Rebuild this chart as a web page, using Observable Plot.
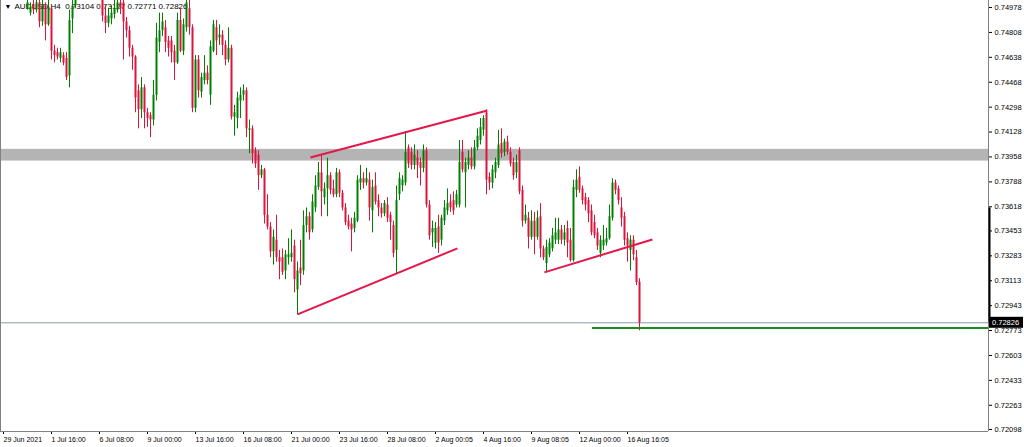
<!DOCTYPE html>
<html><head><meta charset="utf-8">
<script src="https://cdn.jsdelivr.net/npm/d3@7"></script>
<script src="https://cdn.jsdelivr.net/npm/@observablehq/plot@0.6"></script>
<style>body{margin:0;background:#fff;overflow:hidden}</style>
</head><body><div id="chart"></div>
<script>
const symbol = "AUDUSD,H4";
const firstBar = 8; // bar index of the first value below (bar 0 = 29 Jun 2021 00:00)
const open = [
0.7497,0.7494,0.7500,0.7496,0.7501,0.7488,0.7499,0.7486,0.7497,0.7468,
0.7467,0.7463,0.7465,0.7463,0.7451,0.7490,0.7499,0.7506,0.7518,0.7524,
0.7531,0.7542,0.7548,0.7556,0.7528,0.7512,0.7492,0.7487,0.7490,0.7493,
0.7496,0.7501,0.7501,0.7488,0.7482,0.7470,0.7464,0.7441,0.7428,0.7443,
0.7426,0.7424,0.7421,0.7438,0.7474,0.7482,0.7484,0.7475,0.7475,0.7468,
0.7460,0.7489,0.7468,0.7484,0.7497,0.7484,0.7429,0.7462,0.7440,0.7448,
0.7453,0.7438,0.7468,0.7484,0.7477,0.7479,0.7472,0.7462,0.7470,0.7423,
0.7422,0.7434,0.7438,0.7441,0.7414,0.7415,0.7400,0.7397,0.7383,0.7387,
0.7356,0.7348,0.7331,0.7339,0.7327,0.7327,0.7318,0.7327,0.7327,0.7335,
0.7305,0.7320,0.7318,0.7349,0.7355,0.7346,0.7361,0.7375,0.7385,0.7368,
0.7374,0.7383,0.7374,0.7370,0.7385,0.7371,0.7361,0.7352,0.7350,0.7347,
0.7352,0.7378,0.7381,0.7378,0.7380,0.7359,0.7376,0.7366,0.7361,0.7357,
0.7363,0.7356,0.7349,0.7332,0.7370,0.7376,0.7378,0.7402,0.7399,0.7390,
0.7395,0.7392,0.7388,0.7400,0.7363,0.7344,0.7337,0.7348,0.7339,0.7352,
0.7359,0.7365,0.7366,0.7363,0.7363,0.7399,0.7385,0.7390,0.7395,0.7389,
0.7402,0.7407,0.7414,0.7426,0.7382,0.7378,0.7385,0.7390,0.7405,0.7399,
0.7406,0.7399,0.7392,0.7385,0.7400,0.7373,0.7352,0.7354,0.7341,0.7352,
0.7341,0.7355,0.7333,0.7323,0.7329,0.7333,0.7339,0.7339,0.7346,0.7339,
0.7347,0.7339,0.7325,0.7373,0.7382,0.7374,0.7368,0.7366,0.7359,0.7351,
0.7344,0.7330,0.7335,0.7337,0.7340,0.7354,0.7378,0.7374,0.7361,0.7355,
0.7340,0.7332,0.7339,0.7327,0.73104];
const high = [
0.7503,0.7501,0.7503,0.7505,0.7503,0.7503,0.7501,0.7503,0.7499,0.7472,
0.7470,0.7470,0.7467,0.7467,0.7496,0.7503,0.7509,0.7522,0.7528,0.7536,
0.7548,0.7556,0.7562,0.7570,0.7534,0.7516,0.7499,0.7497,0.7499,0.7503,
0.7506,0.7506,0.7505,0.7491,0.7485,0.7472,0.7465,0.7445,0.7450,0.7445,
0.7429,0.7426,0.7448,0.7487,0.7494,0.7494,0.7489,0.7478,0.7478,0.7472,
0.7494,0.7497,0.7490,0.7506,0.7503,0.7486,0.7465,0.7465,0.7453,0.7465,
0.7458,0.7475,0.7489,0.7489,0.7486,0.7482,0.7475,0.7484,0.7472,0.7431,
0.7440,0.7443,0.7445,0.7443,0.7421,0.7417,0.7402,0.7400,0.7390,0.7388,
0.7370,0.7351,0.7346,0.7356,0.7332,0.7333,0.7332,0.7340,0.7346,0.7339,
0.7324,0.7339,0.7359,0.7361,0.7358,0.7370,0.7383,0.7392,0.7397,0.7378,
0.7395,0.7385,0.7380,0.7388,0.7387,0.7373,0.7364,0.7356,0.7354,0.7358,
0.7383,0.7390,0.7385,0.7388,0.7385,0.7380,0.7385,0.7370,0.7364,0.7366,
0.7368,0.7358,0.7352,0.7376,0.7385,0.7383,0.7413,0.7404,0.7402,0.7404,
0.7400,0.7395,0.7404,0.7402,0.7366,0.7352,0.7351,0.7356,0.7356,0.7366,
0.7374,0.7370,0.7372,0.7373,0.7407,0.7407,0.7395,0.7400,0.7402,0.7407,
0.7415,0.7422,0.7424,0.7428,0.7385,0.7390,0.7395,0.7414,0.7415,0.7408,
0.7410,0.7402,0.7395,0.7397,0.7402,0.7376,0.7363,0.7358,0.7359,0.7358,
0.7359,0.7364,0.7335,0.7339,0.7340,0.7347,0.7354,0.7354,0.7349,0.7349,
0.7352,0.7347,0.7380,0.7387,0.7389,0.7376,0.7371,0.7368,0.7363,0.7356,
0.7347,0.7342,0.7349,0.7347,0.7363,0.7381,0.7380,0.7376,0.7368,0.7358,
0.7344,0.7342,0.7342,0.7332,0.73127];
const low = [
0.7496,0.7492,0.7493,0.7494,0.7484,0.7485,0.7475,0.7485,0.7462,0.7460,
0.7462,0.7460,0.7458,0.7448,0.7443,0.7480,0.7497,0.7504,0.7512,0.7518,
0.7526,0.7535,0.7540,0.7522,0.7506,0.7488,0.7480,0.7484,0.7486,0.7490,
0.7494,0.7493,0.7462,0.7477,0.7464,0.7455,0.7426,0.7415,0.7422,0.7415,
0.7416,0.7409,0.7417,0.7434,0.7467,0.7478,0.7467,0.7464,0.7460,0.7448,
0.7459,0.7467,0.7465,0.7481,0.7479,0.7426,0.7426,0.7436,0.7436,0.7445,
0.7445,0.7431,0.7467,0.7465,0.7472,0.7465,0.7458,0.7460,0.7421,0.7410,
0.7415,0.7422,0.7434,0.7409,0.7398,0.7391,0.7388,0.7373,0.7381,0.7350,
0.7346,0.7327,0.7322,0.7324,0.7312,0.7315,0.7312,0.7322,0.7324,0.7303,
0.7288,0.7308,0.7315,0.7344,0.7339,0.7344,0.7358,0.7373,0.7355,0.7363,
0.7355,0.7370,0.7368,0.7368,0.7368,0.7359,0.7349,0.7346,0.7331,0.7344,
0.7351,0.7373,0.7374,0.7376,0.7352,0.7344,0.7363,0.7355,0.7354,0.7355,
0.7351,0.7339,0.7327,0.7316,0.7366,0.7372,0.7376,0.7388,0.7387,0.7387,
0.7381,0.7376,0.7385,0.7361,0.7339,0.7334,0.7333,0.7330,0.7335,0.7349,
0.7356,0.7358,0.7356,0.7361,0.7361,0.7385,0.7361,0.7387,0.7387,0.7387,
0.7400,0.7404,0.7410,0.7370,0.7373,0.7374,0.7381,0.7388,0.7395,0.7396,
0.7397,0.7389,0.7380,0.7381,0.7370,0.7348,0.7350,0.7333,0.7339,0.7329,
0.7339,0.7327,0.7325,0.7317,0.7327,0.7331,0.7336,0.7336,0.7336,0.7335,
0.7327,0.7324,0.7324,0.7368,0.7371,0.7363,0.7359,0.7351,0.7342,0.7340,
0.7332,0.7327,0.7332,0.7335,0.7339,0.7352,0.7370,0.7363,0.7348,0.7335,
0.7324,0.7318,0.7325,0.7308,0.72771];
const close = [
0.7501,0.7498,0.7496,0.7501,0.7488,0.7499,0.7486,0.7498,0.7468,0.7465,
0.7464,0.7467,0.7460,0.7450,0.7489,0.7499,0.7506,0.7518,0.7524,0.7531,
0.7542,0.7548,0.7556,0.7528,0.7512,0.7492,0.7487,0.7492,0.7494,0.7497,
0.7501,0.7497,0.7488,0.7482,0.7470,0.7464,0.7436,0.7428,0.7443,0.7426,
0.7422,0.7421,0.7438,0.7477,0.7482,0.7488,0.7474,0.7470,0.7467,0.7460,
0.7489,0.7468,0.7486,0.7501,0.7484,0.7429,0.7462,0.7441,0.7450,0.7453,
0.7448,0.7471,0.7486,0.7475,0.7479,0.7472,0.7462,0.7470,0.7423,0.7426,
0.7436,0.7438,0.7441,0.7415,0.7415,0.7398,0.7391,0.7383,0.7387,0.7356,
0.7348,0.7331,0.7341,0.7327,0.7324,0.7317,0.7329,0.7329,0.7330,0.7312,
0.7318,0.7316,0.7349,0.7355,0.7344,0.7365,0.7376,0.7385,0.7372,0.7374,
0.7383,0.7373,0.7370,0.7385,0.7371,0.7361,0.7351,0.7348,0.7346,0.7354,
0.7380,0.7381,0.7378,0.7381,0.7361,0.7375,0.7365,0.7361,0.7357,0.7364,
0.7354,0.7351,0.7330,0.7366,0.7381,0.7380,0.7399,0.7391,0.7390,0.7397,
0.7390,0.7388,0.7400,0.7363,0.7342,0.7347,0.7347,0.7337,0.7354,0.7361,
0.7364,0.7361,0.7359,0.7370,0.7392,0.7387,0.7392,0.7395,0.7389,0.7402,
0.7410,0.7416,0.7422,0.7380,0.7378,0.7387,0.7392,0.7404,0.7398,0.7406,
0.7399,0.7391,0.7383,0.7392,0.7372,0.7352,0.7356,0.7341,0.7352,0.7341,
0.7354,0.7333,0.7327,0.7334,0.7337,0.7342,0.7344,0.7346,0.7339,0.7344,
0.7337,0.7325,0.7375,0.7380,0.7373,0.7366,0.7363,0.7357,0.7344,0.7342,
0.7335,0.7339,0.7339,0.7340,0.7355,0.7378,0.7373,0.7366,0.7354,0.7339,
0.7335,0.7339,0.7329,0.7310,0.72826];

const xTickBars = [0,16,32,48,64,80,96,112,128,144,160,176,192,208];
const xTickLabels = ["29 Jun 2021","1 Jul 16:00","6 Jul 08:00","9 Jul 00:00","13 Jul 16:00","16 Jul 08:00","21 Jul 00:00","23 Jul 16:00","28 Jul 08:00","2 Aug 00:05","4 Aug 16:00","9 Aug 08:05","12 Aug 00:00","16 Aug 16:05"];
const yTickValues = [0.74978,0.74808,0.74638,0.74468,0.74298,0.74128,0.73958,0.73788,0.73618,0.73453,0.73283,0.73113,0.72943,0.72773,0.72603,0.72433,0.72263,0.72098];

// annotations (bar index / price)
const zoneTop = 0.7401, zoneBottom = 0.7393;
const trendX1 = [102.3, 98.0, 180.3];
const trendY1 = [0.73954, 0.72883, 0.73170];
const trendX2 = [161.3, 151.3, 216.3];
const trendY2 = [0.74275, 0.73334, 0.73395];
const targetLevel = 0.72790, targetStartBar = 196.3;
const markerTop = 0.7361;

const xDomain = [-1, 328.33];
const yDomain = [0.72084, 0.75026];

const bull = "#008000", bear = "#dc143c";
const bars = open.map((o, k) => ({i: firstBar + k, o, h: high[k], l: low[k], c: close[k]}));
const last = bars[bars.length - 1];
const lastPrice = last.c;
const header = `${symbol}  ${last.o.toFixed(5)} ${last.h.toFixed(5)} ${last.l.toFixed(5)} ${last.c.toFixed(5)}`;
const trends = trendX1.map((x1, k) => ({x1, y1: trendY1[k], x2: trendX2[k], y2: trendY2[k]}));
const col = d => d.c >= d.o ? bull : bear;

const chart = Plot.plot({
  width: 1024, height: 447,
  marginLeft: 0, marginRight: 36, marginTop: 0, marginBottom: 16,
  style: {fontFamily: "Liberation Sans, Arial, sans-serif", fontSize: "7.5px", background: "white", color: "#000"},
  x: {domain: xDomain, axis: "bottom", ticks: xTickBars, tickFormat: () => "", tickSize: 3, label: null},
  y: {domain: yDomain, axis: "right", ticks: yTickValues, tickFormat: d => d.toFixed(5), tickSize: 3, tickPadding: 3, label: null},
  color: {type: "identity"},
  marks: [
    Plot.text(["\u25BC"], {frameAnchor: "top-left", dx: 4, dy: 4, lineAnchor: "top", textAnchor: "start", fontSize: 7, fill: "#000"}),
    Plot.text([header], {frameAnchor: "top-left", dx: 14, dy: 3, lineAnchor: "top", textAnchor: "start", fontSize: 8, fill: "#000"}),
    Plot.rect([0], {x1: xDomain[0], x2: xDomain[1], y1: zoneBottom, y2: zoneTop, fill: "#b4b4b4"}),
    Plot.ruleY([lastPrice], {stroke: "#8d9aa6", strokeWidth: 1}),
    Plot.ruleX(bars, {x: "i", y1: "l", y2: "h", stroke: col, strokeWidth: 1, clip: true}),
    Plot.ruleX(bars, {x: "i", y1: "o", y2: "c", stroke: col, strokeWidth: 2, clip: true}),
    Plot.link(trends, {x1: "x1", y1: "y1", x2: "x2", y2: "y2", stroke: "#e3174a", strokeWidth: 2}),
    Plot.ruleY([targetLevel], {x1: targetStartBar, x2: xDomain[1], stroke: "#1f8a1f", strokeWidth: 2}),
    Plot.ruleX([xDomain[0], xDomain[1]], {stroke: "#808080"}),
    Plot.ruleY([yDomain[0]], {stroke: "#808080"}),
    Plot.ruleX([xDomain[1]], {y1: markerTop, y2: lastPrice, stroke: "#000", strokeWidth: 2, dx: 1}),
    Plot.text(xTickBars, {x: d => d, frameAnchor: "bottom", dy: 10, textAnchor: "start", text: (d, k) => xTickLabels[k], fontSize: 7, fill: "#000"})
  ]
});
document.getElementById("chart").appendChild(chart);

// current price label on the price scale
const sy = chart.scale("y"), sx = chart.scale("x");
const py = sy.apply(lastPrice), px = sx.apply(xDomain[1]);
const svg = d3.select(chart);
svg.append("rect").attr("x", px + 1).attr("y", py - 5.5).attr("width", 34).attr("height", 11).attr("fill", "#000");
svg.append("text").attr("x", px + 4).attr("y", py + 3).attr("fill", "#fff").attr("font-size", "7.5px")
  .attr("text-anchor", "start").attr("font-family", "Liberation Sans, Arial, sans-serif").text(lastPrice.toFixed(5));
</script>
</body></html>
